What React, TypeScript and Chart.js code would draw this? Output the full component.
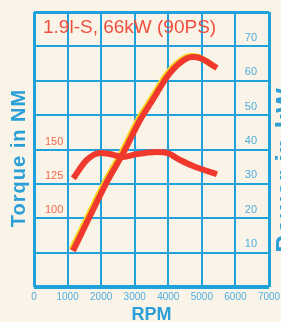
import { useEffect, useRef } from 'react';
import { Chart, registerables } from 'chart.js';

Chart.register(...registerables);

const chartTitle = '1.9l-S, 66kW (90PS)';
const rpmTicks = [0, 1000, 2000, 3000, 4000, 5000, 6000, 7000];
const powerTicksShown = [10, 20, 30, 40, 50, 60, 70];
const torqueTicksShown = [100, 125, 150];

const powerRpm = [1160, 1610, 2200, 2650, 3160, 3540, 3960, 4350, 4710, 4950, 5450];
const powerKw = [10.5, 19.5, 31.1, 38.8, 48.6, 54.5, 61.1, 65.2, 66.9, 66.6, 63.7];

const torqueRpm = [1170, 1570, 1970, 2260, 2650, 3070, 3660, 3960, 4350, 4740, 5450];
const torqueNm = [129, 142.4, 147.5, 146.7, 144.5, 146.7, 148.2, 147.5, 142.4, 138, 132];

const BG = '#f9f4e7';
const GRID = '#1fa2db';
const TICK = '#4fade0';
const AXIS_TITLE = '#2a9fd8';
const RED = '#f0392c';
const RED_TEXT = '#ef4f3e';
const RED_TICK = '#f26a4c';
const FONT = '"Liberation Sans", Arial, sans-serif';

const shadowPlugin = {
  id: 'yellowShadow',
  beforeDatasetDraw(chart: any, args: any) {
    if (args.index === 0) {
      const c = chart.ctx;
      c.save();
      c.shadowColor = '#f3d41e';
      c.shadowOffsetX = -1.5;
      c.shadowOffsetY = -1;
      c.shadowBlur = 0;
    }
  },
  afterDatasetDraw(chart: any, args: any) {
    if (args.index === 0) chart.ctx.restore();
  },
};

const textPlugin = {
  id: 'extraTexts',
  afterDraw(chart: any) {
    const c = chart.ctx as CanvasRenderingContext2D;
    const area = chart.chartArea;
    c.save();
    c.fillStyle = RED_TEXT;
    c.font = `19px ${FONT}`;
    c.textAlign = 'left';
    c.textBaseline = 'alphabetic';
    c.fillText(chartTitle, area.left + 9, 33);
    c.restore();

    c.save();
    c.fillStyle = AXIS_TITLE;
    c.font = `bold 20px ${FONT}`;
    (c as any).letterSpacing = '1px';
    c.textAlign = 'center';
    c.textBaseline = 'alphabetic';
    c.translate(25, 158);
    c.rotate(-Math.PI / 2);
    c.fillText('Torque in NM', 0, 0);
    c.restore();

    c.save();
    c.fillStyle = AXIS_TITLE;
    c.font = `bold 26px ${FONT}`;
    (c as any).letterSpacing = '1px';
    c.textAlign = 'center';
    c.textBaseline = 'alphabetic';
    c.translate(294, 170);
    c.rotate(-Math.PI / 2);
    c.fillText('Power in kW', 0, 0);
    c.restore();
  },
};

const zeroPad = (s: any) => {
  s.paddingLeft = 0;
  s.paddingRight = 0;
  s.paddingTop = 0;
  s.paddingBottom = 0;
};

export default function App() {
  const ref = useRef<HTMLCanvasElement | null>(null);

  useEffect(() => {
    document.body.style.margin = '0';
    document.body.style.background = BG;
    if (!ref.current) return;
    const chart = new Chart(ref.current, {
      type: 'line',
      data: {
        datasets: [
          {
            label: 'Power',
            data: powerRpm.map((x, i) => ({ x, y: powerKw[i] })),
            yAxisID: 'y',
            borderColor: RED,
            borderWidth: 6,
            borderCapStyle: 'butt',
            pointRadius: 0,
            fill: false,
            cubicInterpolationMode: 'monotone',
            order: 2,
          },
          {
            label: 'Torque',
            data: torqueRpm.map((x, i) => ({ x, y: torqueNm[i] })),
            yAxisID: 'yT',
            borderColor: RED,
            borderWidth: 6,
            borderCapStyle: 'butt',
            pointRadius: 0,
            fill: false,
            cubicInterpolationMode: 'monotone',
            order: 1,
          },
        ],
      },
      options: {
        responsive: false,
        animation: false,
        layout: { padding: { top: 12, left: 0, right: 0, bottom: 0 } },
        plugins: {
          legend: { display: false },
          tooltip: { enabled: false },
          title: { display: false },
        },
        scales: {
          x: {
            type: 'linear',
            min: 0,
            max: 7000,
            afterBuildTicks: (s: any) => {
              s.ticks = rpmTicks.map((v) => ({ value: v }));
            },
            afterFit: (s: any) => {
              s.height = 35;
              zeroPad(s);
            },
            ticks: {
              color: TICK,
              font: { family: FONT, size: 10 },
              padding: 4,
              maxRotation: 0,
              autoSkip: false,
              callback: (v: any) => String(v),
            },
            grid: {
              color: GRID,
              drawTicks: false,
              lineWidth: (ctx: any) =>
                ctx.tick && (ctx.tick.value === 0 || ctx.tick.value === 7000) ? 3 : 2,
            },
            border: { display: false },
            title: {
              display: true,
              text: 'RPM',
              color: AXIS_TITLE,
              font: { family: FONT, size: 18, weight: 'bold', lineHeight: 0.8 },
              padding: 0,
            },
          },
          y: {
            type: 'linear',
            position: 'right',
            min: 0,
            max: 80,
            afterBuildTicks: (s: any) => {
              s.ticks = [0, ...powerTicksShown, 80].map((v) => ({ value: v }));
            },
            afterFit: (s: any) => {
              s.width = 12;
              zeroPad(s);
            },
            ticks: {
              mirror: true,
              padding: -12,
              labelOffset: -8.5,
              color: TICK,
              font: { family: FONT, size: 11 },
              callback: (v: any) => (powerTicksShown.includes(Number(v)) ? String(v) : ''),
            },
            grid: {
              color: GRID,
              drawTicks: false,
              lineWidth: (ctx: any) =>
                ctx.tick && ctx.tick.value === 0 ? 4 : ctx.tick && ctx.tick.value === 80 ? 3 : 2,
            },
            border: { display: false },
          },
          yT: {
            type: 'linear',
            position: 'left',
            min: 50,
            max: 250,
            afterBuildTicks: (s: any) => {
              s.ticks = torqueTicksShown.map((v) => ({ value: v }));
            },
            afterFit: (s: any) => {
              s.width = 34;
              zeroPad(s);
            },
            ticks: {
              mirror: true,
              padding: 11,
              labelOffset: -8,
              color: RED_TICK,
              font: { family: FONT, size: 11 },
              callback: (v: any) => String(v),
            },
            grid: { display: false, drawTicks: false },
            border: { display: false },
          },
        },
      } as any,
      plugins: [shadowPlugin, textPlugin],
    });
    return () => chart.destroy();
  }, []);

  return (
    <div style={{ width: 281, height: 322, background: BG }}>
      <canvas ref={ref} width={281} height={322} style={{ display: 'block' }} />
    </div>
  );
}
